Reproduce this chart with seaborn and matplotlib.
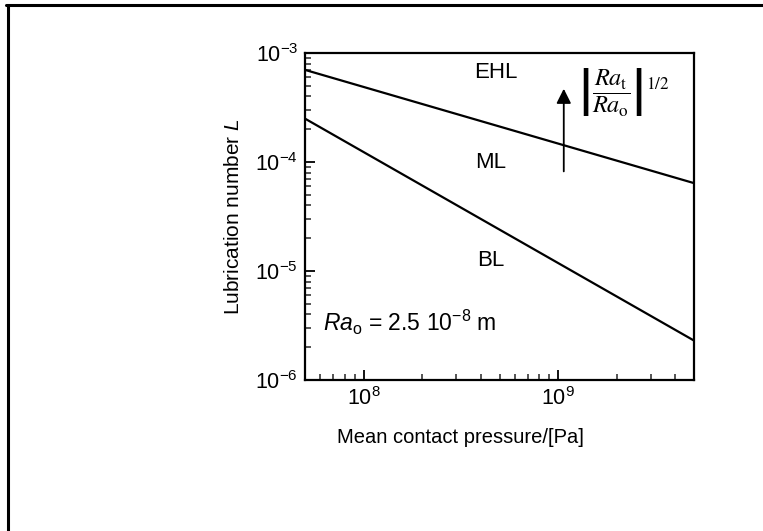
import numpy as np
import pandas as pd
import seaborn as sns
import matplotlib
matplotlib.use("Agg")
import matplotlib.pyplot as plt
from matplotlib.lines import Line2D
from matplotlib.ticker import LogLocator, NullFormatter

# Data
pressure = [5e7, 5e9]               # Pa
upper_boundary = [7.0e-4, 6.4e-5]   # EHL / ML boundary
lower_boundary = [2.5e-4, 2.3e-6]   # ML / BL boundary

regions = ["EHL", "ML", "BL"]
region_x = [4.8e8, 4.5e8, 4.5e8]
region_y = [6.6e-4, 1.0e-4, 1.26e-5]

arrow_x = 1.07e9
arrow_y = [8.2e-5, 4.7e-4]

df = pd.DataFrame({
    "pressure": pressure * 2,
    "L": upper_boundary + lower_boundary,
    "line": ["upper"] * 2 + ["lower"] * 2,
})

sns.set_theme(style="white")
plt.rcParams["font.family"] = ["Liberation Sans", "DejaVu Sans"]
plt.rcParams["mathtext.fontset"] = "custom"
plt.rcParams["mathtext.rm"] = "Liberation Sans"
plt.rcParams["mathtext.it"] = "Liberation Sans:italic"

fig = plt.figure(figsize=(7.63, 5.31), dpi=100)
ax = fig.add_axes([305 / 763, 1 - 380 / 531, (694 - 305) / 763, (380 - 53) / 531])

sns.lineplot(data=df, x="pressure", y="L", units="line", estimator=None,
             color="black", linewidth=1.6, ax=ax, legend=False)

ax.set_xscale("log")
ax.set_yscale("log")
ax.set_xlim(5e7, 5e9)
ax.set_ylim(1e-6, 1e-3)

ax.xaxis.set_major_locator(LogLocator(base=10, numticks=10))
ax.xaxis.set_minor_locator(LogLocator(base=10, subs=np.arange(2, 10), numticks=20))
ax.yaxis.set_major_locator(LogLocator(base=10, numticks=10))
ax.yaxis.set_minor_locator(LogLocator(base=10, subs=np.arange(2, 10), numticks=20))
ax.xaxis.set_minor_formatter(NullFormatter())
ax.yaxis.set_minor_formatter(NullFormatter())

ax.tick_params(axis="both", which="major", direction="in", length=7, width=1.3,
               labelsize=15.5, colors="black", bottom=True, left=True, pad=5)
ax.tick_params(axis="both", which="minor", direction="in", length=4.5, width=1.1,
               bottom=True, left=True)
for s in ax.spines.values():
    s.set_linewidth(1.6)
    s.set_color("black")

ax.set_xlabel("Mean contact pressure/[Pa]", fontsize=14.5, color="black")
ax.set_ylabel("Lubrication number $\\mathit{L}$", fontsize=15, color="black")
ax.xaxis.set_label_coords((460 - 305) / 389, -(428 - 380) / 327)
ax.yaxis.set_label_coords(-(305 - 243) / 389, 0.5)

for name, x, y in zip(regions, region_x, region_y):
    ax.text(x, y, name, fontsize=16, ha="center", va="center", color="black")

ax.text(6.2e7, 3.4e-6, "$\\mathit{Ra}_{\\mathrm{o}}$ = 2.5 10$^{-8}$ m",
        fontsize=16.5, ha="left", va="center", color="black")

ax.annotate("", xy=(arrow_x, arrow_y[1]), xytext=(arrow_x, arrow_y[0]),
            arrowprops=dict(arrowstyle="-|>", color="black", lw=1.3,
                            mutation_scale=22, shrinkA=0, shrinkB=0))

ax.text(1.27e9, 4.4e-4,
        r"$\left|\dfrac{\mathit{Ra}_{\mathrm{t}}}{\mathit{Ra}_{\mathrm{o}}}\right|^{1/2}$",
        fontsize=17.5, ha="left", va="center", color="black",
        math_fontfamily="stix")

# Outer frame (top and left edges only)
fig.add_artist(Line2D([6 / 763, 1.0], [1 - 5 / 531, 1 - 5 / 531], color="black",
                      lw=2.2, transform=fig.transFigure))
fig.add_artist(Line2D([7.5 / 763, 7.5 / 763], [0.0, 1 - 5 / 531], color="black",
                      lw=2.2, transform=fig.transFigure))

fig.savefig("out.png", dpi=100)
